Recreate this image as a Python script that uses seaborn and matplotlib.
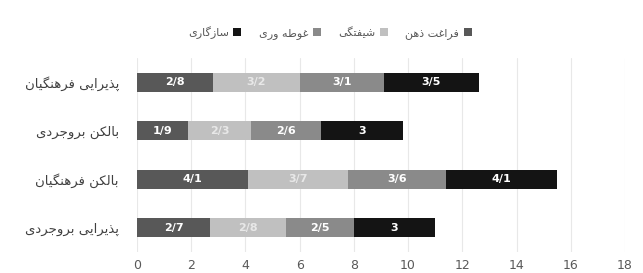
import matplotlib
matplotlib.use("Agg")
import matplotlib.pyplot as plt
from matplotlib.patches import Patch
import seaborn as sns
import pandas as pd
import numpy as np

# ---------------- data ----------------
categories = ["پذیرایی فرهنگیان", "بالکن بروجردی", "بالکن فرهنگیان", "پذیرایی بروجردی"]
series_names = ["فراغت ذهن", "شیفتگی", "غوطه وری", "سازگاری"]
faraghat = [2.8, 1.9, 4.1, 2.7]
sheyftegi = [3.2, 2.3, 3.7, 2.8]
ghoteh = [3.1, 2.6, 3.6, 2.5]
sazgari = [3.5, 3.0, 4.1, 3.0]
xticks = [0, 2, 4, 6, 8, 10, 12, 14, 16, 18]

colors = ["#585858", "#c0c0c0", "#8a8a8a", "#141414"]

# ---------------- simple Persian shaping (RTL + joining forms) ----------------
FORMS = {
    'ا': ('\uFE8D', '\uFE8E', None, None),
    'ب': ('\uFE8F', '\uFE90', '\uFE91', '\uFE92'),
    'پ': ('\uFB56', '\uFB57', '\uFB58', '\uFB59'),
    'ت': ('\uFE95', '\uFE96', '\uFE97', '\uFE98'),
    'ج': ('\uFE9D', '\uFE9E', '\uFE9F', '\uFEA0'),
    'د': ('\uFEA9', '\uFEAA', None, None),
    'ذ': ('\uFEAB', '\uFEAC', None, None),
    'ر': ('\uFEAD', '\uFEAE', None, None),
    'ز': ('\uFEAF', '\uFEB0', None, None),
    'س': ('\uFEB1', '\uFEB2', '\uFEB3', '\uFEB4'),
    'ش': ('\uFEB5', '\uFEB6', '\uFEB7', '\uFEB8'),
    'ط': ('\uFEC1', '\uFEC2', '\uFEC3', '\uFEC4'),
    'غ': ('\uFECD', '\uFECE', '\uFECF', '\uFED0'),
    'ف': ('\uFED1', '\uFED2', '\uFED3', '\uFED4'),
    'ک': ('\uFB8E', '\uFB8F', '\uFB90', '\uFB91'),
    'گ': ('\uFB92', '\uFB93', '\uFB94', '\uFB95'),
    'ل': ('\uFEDD', '\uFEDE', '\uFEDF', '\uFEE0'),
    'ن': ('\uFEE5', '\uFEE6', '\uFEE7', '\uFEE8'),
    'ه': ('\uFEE9', '\uFEEA', '\uFEEB', '\uFEEC'),
    'و': ('\uFEED', '\uFEEE', None, None),
    'ی': ('\uFBFC', '\uFBFD', '\uFBFE', '\uFBFF'),
}


def fa(text):
    chars = list(text)
    out = []
    n = len(chars)
    for i, c in enumerate(chars):
        if c not in FORMS:
            out.append(c)
            continue
        prev = chars[i - 1] if i > 0 else None
        nxt = chars[i + 1] if i + 1 < n else None
        jp = prev in FORMS and FORMS[prev][2] is not None
        jn = nxt in FORMS and FORMS[c][2] is not None
        iso, fin, ini, med = FORMS[c]
        if jp and jn:
            out.append(med)
        elif jp:
            out.append(fin)
        elif jn:
            out.append(ini)
        else:
            out.append(iso)
    return ''.join(reversed(out))


def fa_num(v):
    s = f"{v:g}"
    return s.replace('.', '/')

# ---------------- plot ----------------
sns.set_theme(style="white")
plt.rcParams['font.family'] = ['DejaVu Sans']

fig = plt.figure(figsize=(6.43, 2.73), dpi=100)
ax = fig.add_axes([0.213, 0.077, 0.759, 0.711])

values = [faraghat, sheyftegi, ghoteh, sazgari]
cum = np.cumsum(np.array(values), axis=0)
cat_shaped = [fa(c) for c in categories]

# draw cumulative bars from the outermost to innermost (stacked look)
for k in range(len(values) - 1, -1, -1):
    df = pd.DataFrame({"cat": cat_shaped, "val": cum[k]})
    sns.barplot(data=df, y="cat", x="val", orient="h", color=colors[k],
                saturation=1, width=0.39, ax=ax, order=cat_shaped,
                linewidth=0, zorder=3)

# segment labels
for k, vals in enumerate(values):
    for i, v in enumerate(vals):
        center = cum[k][i] - v / 2
        ax.text(center, i, fa_num(v), ha="center", va="center",
                color="white" if k != 1 else "#e8e8e8",
                fontsize=8, fontweight="bold", zorder=5)

ax.set_xlim(0, 18)
ax.set_ylim(3.5, -0.5)
ax.set_xticks(xticks)
ax.set_xticklabels([str(t) for t in xticks], color="#595959", fontsize=9)
ax.set_xlabel("")
ax.set_ylabel("")
ax.tick_params(axis="y", length=0, pad=13, labelsize=9.5, labelcolor="#404040")
ax.tick_params(axis="x", length=0, pad=5)
ax.xaxis.grid(True, color="#e8e8e8", linewidth=0.8, zorder=0)
ax.set_axisbelow(True)
for s in ax.spines.values():
    s.set_visible(False)

# legend (RTL: marker on the right, reversed order)
handles = [Patch(facecolor=colors[k], edgecolor="none") for k in range(4)]
labels = [fa(s) for s in series_names]
fig.legend(handles[::-1], labels[::-1], loc="center", bbox_to_anchor=(0.513, 0.88),
           ncol=4, frameon=False, markerfirst=False, fontsize=8,
           handlelength=0.7, handleheight=0.7, handletextpad=0.4,
           columnspacing=1.6, labelcolor="#595959")

fig.savefig("out.png", dpi=100, facecolor="white")
